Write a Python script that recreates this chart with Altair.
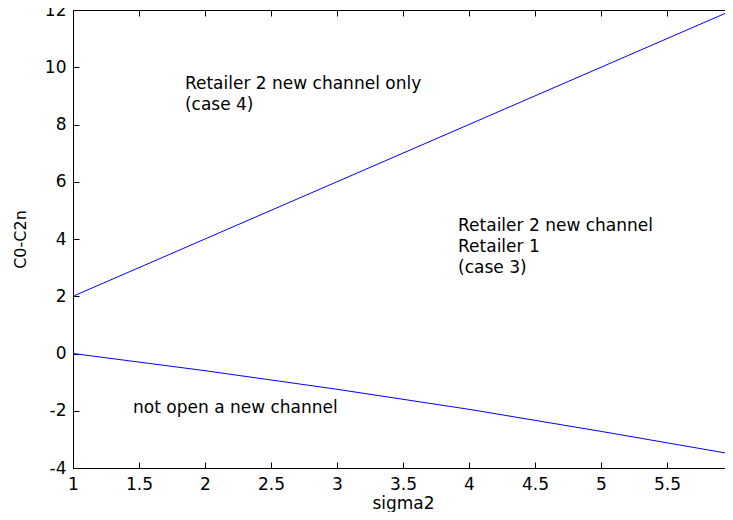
import altair as alt
import pandas as pd

# ---- data ----
x_ticks = [1, 1.5, 2, 2.5, 3, 3.5, 4, 4.5, 5, 5.5, 6]
y_ticks = [-4, -2, 0, 2, 4, 6, 8, 10, 12]

upper_x = [1, 6]
upper_y = [2, 12]

lower_x = [1, 2, 3, 4, 5, 6]
lower_y = [0, -0.6, -1.25, -1.95, -2.72, -3.52]

note_text = ["Retailer 2 new channel only", "(case 4)",
             "Retailer 2 new channel", "Retailer 1", "(case 3)",
             "not open a new channel"]
note_x = [1.848, 1.848, 3.917, 3.917, 3.917, 1.455]
note_y = [9.415, 8.68, 4.437, 3.72, 2.987, -1.90]

x_domain = [1, 6]
y_domain = [-4, 12]

FONT = "DejaVu Sans"
W, H = 660, 458

lines = pd.DataFrame({
    "series": ["upper"] * len(upper_x) + ["lower"] * len(lower_x),
    "x": upper_x + lower_x,
    "y": upper_y + lower_y,
})
notes = pd.DataFrame({"text": note_text, "x": note_x, "y": note_y})

xs = alt.Scale(domain=x_domain, nice=False, zero=False)
ys = alt.Scale(domain=y_domain, nice=False, zero=False)

lab = "'' + datum.value"

# main layer with labels & titles
main = alt.Chart(lines).mark_line(color="#0000ff", strokeWidth=1, clip=True).encode(
    x=alt.X("x:Q", scale=xs, axis=alt.Axis(
        orient="bottom", values=x_ticks, labelExpr=lab, ticks=False, domain=False,
        grid=False, labelFont=FONT, labelFontSize=17, labelColor="#000",
        labelPadding=8, labelFlush=False, labelOverlap=False,
        title="sigma2", titleFont=FONT, titleFontSize=17, titleFontWeight="normal",
        titleColor="#000", titleY=40, titleBaseline="alphabetic")),
    y=alt.Y("y:Q", scale=ys, axis=alt.Axis(
        orient="left", values=y_ticks, labelExpr=lab, ticks=False, domain=False,
        grid=False, labelFont=FONT, labelFontSize=17, labelColor="#000",
        labelPadding=7, labelFlush=False, labelOverlap=False,
        title="C0-C2n", titleFont=FONT, titleFontSize=16, titleFontWeight="normal",
        titleColor="#000", titleX=-53, titleY=H / 2, titleAngle=270,
        titleAlign="center", titleBaseline="middle")),
    detail="series:N",
)

def tick_axis(orient, values, offset):
    return alt.Axis(orient=orient, values=values, offset=offset, labels=False,
                    ticks=True, tickSize=6, tickColor="#000", tickWidth=1,
                    domain=False, grid=False)

# inward ticks at bottom and left
ticks_a = alt.Chart(lines).mark_point(opacity=0).encode(
    x=alt.X("x:Q", scale=xs, title=None, axis=tick_axis("top", x_ticks, -H)),
    y=alt.Y("y:Q", scale=ys, title=None, axis=tick_axis("right", y_ticks, -W)),
)
# inward ticks at top and right
ticks_b = alt.Chart(lines).mark_point(opacity=0).encode(
    x=alt.X("x:Q", scale=xs, title=None, axis=tick_axis("bottom", x_ticks, -H)),
    y=alt.Y("y:Q", scale=ys, title=None, axis=tick_axis("left", y_ticks, -W)),
)

text = alt.Chart(notes).mark_text(
    align="left", baseline="middle", font=FONT, fontSize=17, color="#000"
).encode(
    x=alt.X("x:Q", scale=xs, axis=None),
    y=alt.Y("y:Q", scale=ys, axis=None),
    text="text:N",
)

chart = alt.layer(main, ticks_a, ticks_b, text).resolve_axis(
    x="independent", y="independent"
).properties(
    width=W, height=H,
    autosize=alt.AutoSizeParams(type="none"),
    padding={"left": 65, "top": 2, "right": -8, "bottom": 44},
    background="white",
).configure_view(stroke="#000", strokeWidth=1)

chart.save("out.html", embed_options={"renderer": "svg", "actions": False})
